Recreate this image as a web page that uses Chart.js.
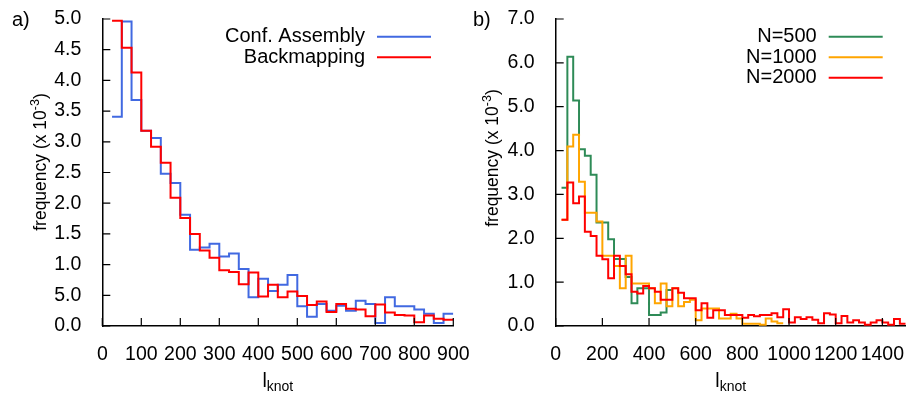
<!DOCTYPE html>
<html>
<head>
<meta charset="utf-8">
<script src="https://cdn.jsdelivr.net/npm/chart.js@4.4.1/dist/chart.umd.min.js"></script>
<style>
html, body { margin: 0; padding: 0; background: #fff; }
#wrap { position: relative; width: 906px; height: 394px; overflow: hidden; }
canvas { position: absolute; top: 0; }
#chartA { left: 0; }
#chartB { left: 460px; }
</style>
</head>
<body>
<div id="wrap">
<canvas id="chartA" width="480" height="394"></canvas>
<canvas id="chartB" width="446" height="394"></canvas>
</div>
<script>
// ---- panel a) : bins of 25 in l_knot ----
var edgesA = [25, 50, 75, 100, 125, 150, 175, 200, 225, 250, 275, 300, 325, 350, 375, 400, 425, 450,
              475, 500, 525, 550, 575, 600, 625, 650, 675, 700, 725, 750, 775, 800, 825, 850, 875, 900];
var confAssembly = [3.41, 4.96, 3.68, 3.18, 3.06, 2.48, 2.33, 1.81, 1.24, 1.28, 1.34, 1.13, 1.18, 0.93,
                    0.47, 0.77, 0.57, 0.67, 0.83, 0.32, 0.15, 0.36, 0.25, 0.33, 0.25, 0.41, 0.36, 0.05,
                    0.47, 0.32, 0.32, 0.27, 0.20, 0.05, 0.20];
var backmapping = [4.97, 4.53, 4.13, 3.18, 2.92, 2.66, 2.09, 1.76, 1.50, 1.23, 1.11, 0.91, 0.88, 0.68,
                   0.87, 0.48, 0.67, 0.47, 0.56, 0.49, 0.34, 0.40, 0.23, 0.36, 0.28, 0.27, 0.16, 0.35,
                   0.22, 0.18, 0.17, 0.06, 0.17, 0.12, 0.10];
// the original figure labels the 0.5 tick as "5.0"
var yTicksA = ['0.0', '5.0', '1.0', '1.5', '2.0', '2.5', '3.0', '3.5', '4.0', '4.5', '5.0'];

// ---- panel b) ----
var edgesB = [25, 50, 75, 100, 125, 150, 175, 200, 225, 250, 275, 300, 325, 350, 375, 400, 425, 450,
              475, 500, 525, 550, 575, 600, 625, 650, 675, 700, 725, 750, 775, 800, 825, 850, 875, 900,
              925, 950, 975, 1000, 1025, 1050, 1075, 1100, 1125, 1150, 1175, 1200, 1225, 1250, 1275,
              1300, 1325, 1350, 1375, 1400, 1425, 1450, 1475, 1500];
var n500 = [3.15, 6.14, 5.14, 4.03, 3.88, 3.45, 2.36, 2.36, 1.98, 1.53, 1.53, 1.12, 0.52, 0.86, 0.86,
            0.25, 0.25, 0.31, 0.82];
var n1000 = [2.42, 4.09, 4.36, 3.29, 2.58, 2.58, 2.38, 1.60, 1.60, 1.37, 0.86, 1.60, 0.97, 0.97, 0.97,
             0.86, 0.52, 0.97, 0.45, 0.86, 0.45, 0.55, 0.60, 0.13, 0.40, 0.40, 0.40, 0.17, 0.17, 0.28,
             0.17, 0.05, 0.05, 0.05, 0.03, 0.17, 0.10, 0.06];
var n2000 = [2.42, 3.27, 2.80, 2.95, 2.15, 2.05, 1.60, 1.52, 1.09, 1.60, 1.37, 1.18, 0.78, 0.74, 0.91,
             0.86, 0.78, 0.60, 0.60, 0.86, 0.76, 0.63, 0.63, 0.36, 0.52, 0.19, 0.36, 0.36, 0.25, 0.25,
             0.25, 0.19, 0.25, 0.22, 0.25, 0.25, 0.29, 0.20, 0.38, 0.08, 0.20, 0.16, 0.20, 0.14, 0.06,
             0.29, 0.26, 0.06, 0.23, 0.08, 0.13, 0.08, 0.03, 0.08, 0.13, 0.08, 0.03, 0.16, 0.05];
var yTicksB = ['0.0', '1.0', '2.0', '3.0', '4.0', '5.0', '6.0', '7.0'];

var FONT = '"Liberation Sans", Arial, Helvetica, sans-serif';
Chart.defaults.font.family = FONT;
Chart.defaults.color = '#000';

// histogram as steps: one point per left bin edge, plus the closing edge
function histSteps(edges, values) {
    var pts = values.map(function (v, i) { return {x: edges[i], y: v}; });
    pts.push({x: edges[values.length], y: values[values.length - 1]});
    return pts;
}

function stepSet(label, edges, values, color, order) {
    return {
        label: label,
        data: histSteps(edges, values),
        stepped: 'before',
        borderColor: color,
        borderWidth: 2,
        pointRadius: 0,
        fill: false,
        order: order
    };
}

// inner ticks, right-aligned legend, panel letter and axis titles with sub/superscripts
var gnuplotLook = {
    id: 'gnuplotLook',
    afterDraw: function (chart, args, o) {
        var ctx = chart.ctx;
        var area = chart.chartArea;
        var xs = chart.scales.x, ys = chart.scales.y;
        ctx.save();

        ctx.strokeStyle = '#000';
        ctx.lineWidth = 1.2;
        ctx.beginPath();
        ys.ticks.forEach(function (t) {
            var py = ys.getPixelForValue(t.value);
            ctx.moveTo(area.left, py);
            ctx.lineTo(area.left + 8, py);
        });
        xs.ticks.forEach(function (t) {
            var px = xs.getPixelForValue(t.value);
            ctx.moveTo(px, area.bottom);
            ctx.lineTo(px, area.bottom - 8);
        });
        ctx.stroke();

        ctx.font = '20px ' + FONT;
        ctx.textAlign = 'right';
        ctx.textBaseline = 'middle';
        chart.data.datasets.forEach(function (ds, i) {
            var y = o.legendY + i * o.legendGap;
            ctx.fillStyle = '#000';
            ctx.fillText(ds.label, o.legendX, y);
            ctx.strokeStyle = ds.borderColor;
            ctx.lineWidth = 2;
            ctx.beginPath();
            ctx.moveTo(o.legendX + 12, y);
            ctx.lineTo(o.legendX + 66, y);
            ctx.stroke();
        });

        ctx.textAlign = 'left';
        ctx.textBaseline = 'alphabetic';
        ctx.fillStyle = '#000';
        ctx.fillText(o.panel, o.panelX, 26);

        // x title: l with subscript "knot"
        var big = '19.5px ' + FONT, small = '14px ' + FONT;
        ctx.font = big;
        var wl = ctx.measureText('l').width;
        ctx.font = small;
        var wk = ctx.measureText('knot').width;
        var cx = (area.left + area.right) / 2 - (wl + wk) / 2;
        ctx.font = big;
        ctx.fillText('l', cx, 387);
        ctx.font = small;
        ctx.fillText('knot', cx + wl, 391);

        // y title, rotated, with superscript exponent
        var tb = '17.5px ' + FONT, ts = '12.5px ' + FONT;
        ctx.translate(o.yTitleX, o.yTitleY);
        ctx.rotate(-Math.PI / 2);
        ctx.font = tb;
        var w1 = ctx.measureText(o.yTitle[0]).width;
        var w3 = ctx.measureText(o.yTitle[2]).width;
        ctx.font = ts;
        var w2 = ctx.measureText(o.yTitle[1]).width;
        var x0 = -(w1 + w2 + w3) / 2;
        ctx.font = tb;
        ctx.fillText(o.yTitle[0], x0, 0);
        ctx.font = ts;
        ctx.fillText(o.yTitle[1], x0 + w1, -7);
        ctx.font = tb;
        ctx.fillText(o.yTitle[2], x0 + w1 + w2, 0);

        ctx.restore();
    }
};

function makeChart(id, datasets, xs, ys, axisW, padRight, decor) {
    return new Chart(document.getElementById(id).getContext('2d'), {
        type: 'line',
        data: {datasets: datasets},
        options: {
            responsive: false,
            animation: false,
            layout: {padding: {left: 0, top: 19, right: padRight, bottom: 0}},
            scales: {
                x: {
                    type: 'linear',
                    min: 0,
                    max: xs.max,
                    grid: {display: false},
                    border: {display: true, color: '#000', width: 1.5},
                    ticks: {
                        stepSize: xs.step,
                        includeBounds: false,
                        autoSkip: false,
                        maxRotation: 0,
                        minRotation: 0,
                        padding: 9,
                        color: '#000',
                        font: {size: 19.5},
                        callback: function (v) { return String(v); }
                    },
                    afterFit: function (s) { s.height = 68; s.paddingLeft = 0; s.paddingRight = 0; }
                },
                y: {
                    min: 0,
                    max: ys.max,
                    grid: {display: false},
                    border: {display: true, color: '#000', width: 1.5},
                    ticks: {
                        stepSize: ys.step,
                        padding: 13,
                        color: '#000',
                        font: {size: 19.5},
                        callback: function (v, i) { return ys.labels[i]; }
                    },
                    afterFit: function (s) { s.width = axisW; s.paddingTop = 0; s.paddingBottom = 0; }
                }
            },
            plugins: {
                legend: {display: false},
                tooltip: {enabled: false},
                gnuplotLook: decor
            }
        },
        plugins: [gnuplotLook]
    });
}

var chartA = makeChart('chartA', [
        stepSet('Conf. Assembly', edgesA, confAssembly, '#4169E1', 1),
        stepSet('Backmapping', edgesA, backmapping, '#FF0000', 0)
    ],
    {max: 900, step: 100},
    {max: 5, step: 0.5, labels: yTicksA},
    102.3, 26.7,
    {legendX: 365, legendY: 36.7, legendGap: 20.6, panel: 'a)', panelX: 12,
     yTitleX: 45.5, yTitleY: 162, yTitle: ['frequency (x 10', '-3', ')']});

var chartB = makeChart('chartB', [
        stepSet('N=500', edgesB, n500, '#2E8B57', 2),
        stepSet('N=1000', edgesB, n1000, '#FFA500', 1),
        stepSet('N=2000', edgesB, n2000, '#FF0000', 0)
    ],
    {max: 1500, step: 200},
    {max: 7, step: 1, labels: yTicksB},
    95.7, 0.3,
    {legendX: 356.7, legendY: 36.7, legendGap: 20.5, panel: 'b)', panelX: 13,
     yTitleX: 38, yTitleY: 158, yTitle: ['frequency (x 10', '-3', ')']});
</script>
</body>
</html>
